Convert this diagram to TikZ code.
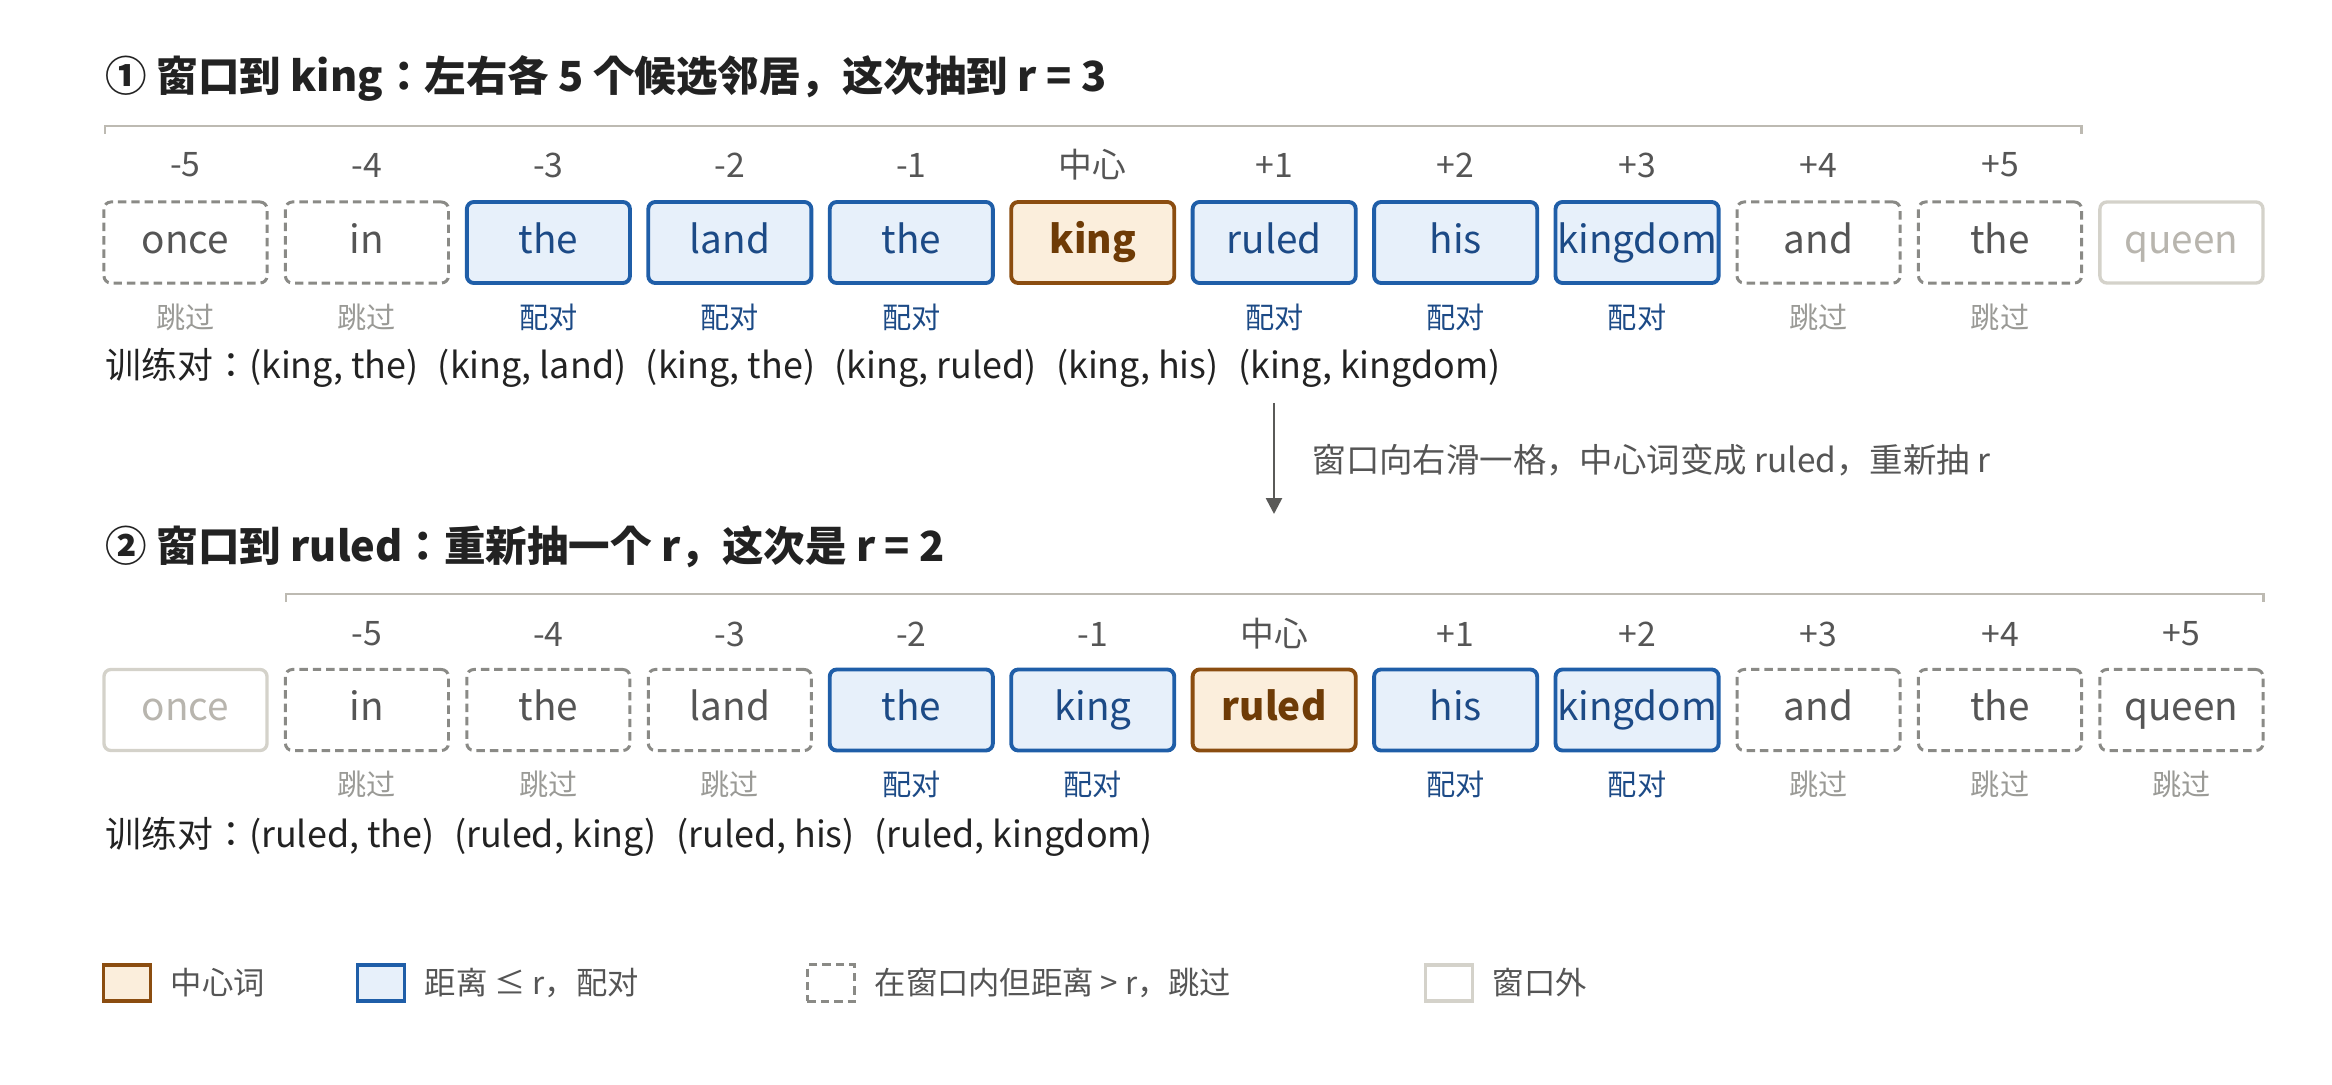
\documentclass[tikz,border=0pt]{standalone}
\usepackage{fontspec}
\setmainfont{Noto Sans CJK JP}
\usetikzlibrary{positioning,arrows.meta}

\definecolor{inkT}{HTML}{222222}
\definecolor{inkG}{HTML}{555555}
\definecolor{skipL}{HTML}{8A8A86}
\definecolor{skipT}{HTML}{9A9A96}
\definecolor{pairL}{HTML}{1F5EA8}
\definecolor{pairF}{HTML}{E7F0FA}
\definecolor{pairT}{HTML}{1C4A86}
\definecolor{cenL}{HTML}{8B4D10}
\definecolor{cenF}{HTML}{FBEEDC}
\definecolor{cenT}{HTML}{6E3B06}
\definecolor{outL}{HTML}{D4D2CA}
\definecolor{outT}{HTML}{B8B5AE}
\definecolor{brk}{HTML}{BDBAB2}
\definecolor{flowC}{HTML}{5A5A58}

\begin{document}
\begin{tikzpicture}[x=0.01cm,y=-0.01cm,
  word/.style={shape=rectangle,rounded corners=2pt,minimum width=1.63cm,minimum height=0.81cm,inner sep=0pt,text height=8pt,text depth=2pt,font=\fontsize{11}{13}\selectfont},
  wordS/.style={word,draw=skipL,line width=0.85pt,dash pattern=on 2.4pt off 1.4pt,text=inkG},
  wordP/.style={word,draw=pairL,line width=1.1pt,fill=pairF,text=pairT},
  wordC/.style={word,draw=cenL,line width=1.1pt,fill=cenF,text=cenT,font=\fontsize{11}{13}\selectfont\bfseries},
  wordO/.style={word,draw=outL,line width=0.95pt,text=outT},
  offs/.style={text=inkG,font=\fontsize{9.6}{11}\selectfont},
  statS/.style={text=skipT,font=\fontsize{8.3}{10}\selectfont},
  statP/.style={text=pairT,font=\fontsize{8.3}{10}\selectfont},
  head/.style={anchor=west,inner sep=0pt,text=inkT,font=\fontsize{11.8}{14}\selectfont\bfseries},
  pairs/.style={anchor=west,inner sep=0pt,text=inkT,font=\fontsize{10.2}{12}\selectfont},
  bracket/.style={draw=brk,line width=0.85pt},
  flow/.style={draw=flowC,line width=0.75pt,-{Triangle[length=4.5pt,width=4.5pt]}},
  key/.style={shape=rectangle,minimum width=0.47cm,minimum height=0.36cm,inner sep=0pt,line width=0.95pt},
  keytext/.style={right=0.18cm of #1,inner sep=0pt,text=inkG,font=\fontsize{8.9}{10}\selectfont}]
\def\dx{181.45};
\def\xa{185.5};
\def\ya{242.5};
\def\yb{710};

\useasboundingbox (0,0) rectangle (2332,1085);

% step 1: window on king
\node[head] (t1) at (105,78) {① 窗口到 king：左右各 5 个候选邻居，这次抽到 r = 3};
\draw[bracket] (105,134) -- (105,126) -- (2081.5,126) -- (2081.5,134);

\foreach \o [count=\i from 0] in {-5,-4,-3,-2,-1,中心,+1,+2,+3,+4,+5}
  \node[offs] (oa\i) at (\xa+\i*\dx,165) {\o};

\foreach \w/\s [count=\i from 0] in {once/S,in/S,the/P,land/P,the/P,king/C,ruled/P,his/P,kingdom/P,and/S,the/S,queen/O}
  \node[word\s] (a\i) at (\xa+\i*\dx,\ya) {\w};

\foreach \i in {0,1,9,10}
  \node[statS] (sa\i) at (\xa+\i*\dx,317) {跳过};
\foreach \i in {2,3,4,6,7,8}
  \node[statP] (sa\i) at (\xa+\i*\dx,317) {配对};

\node[pairs] (p1) at (105,368) {训练对：(king, the)\hspace{0.32em} (king, land)\hspace{0.32em} (king, the)\hspace{0.32em} (king, ruled)\hspace{0.32em} (king, his)\hspace{0.32em} (king, kingdom)};

% slide
\coordinate (s1) at (1274,403);
\coordinate (s2) at (1274,514);
\draw[flow] (s1) -- (s2);
\node[anchor=west,inner sep=0pt,text=inkG,font=\fontsize{9.5}{11}\selectfont] (sl) at (1312,460) {窗口向右滑一格，中心词变成 ruled，重新抽 r};

% step 2: window on ruled
\node[head] (t2) at (105,547) {② 窗口到 ruled：重新抽一个 r，这次是 r = 2};
\draw[bracket] (286,602) -- (286,594) -- (2263,594) -- (2263,602);

\foreach \o [count=\i from 1] in {-5,-4,-3,-2,-1,中心,+1,+2,+3,+4,+5}
  \node[offs] (ob\i) at (\xa+\i*\dx,634) {\o};

\foreach \w/\s [count=\i from 0] in {once/O,in/S,the/S,land/S,the/P,king/P,ruled/C,his/P,kingdom/P,and/S,the/S,queen/S}
  \node[word\s] (b\i) at (\xa+\i*\dx,\yb) {\w};

\foreach \i in {1,2,3,9,10,11}
  \node[statS] (sb\i) at (\xa+\i*\dx,784) {跳过};
\foreach \i in {4,5,7,8}
  \node[statP] (sb\i) at (\xa+\i*\dx,784) {配对};

\node[pairs] (p2) at (105,837) {训练对：(ruled, the)\hspace{0.32em} (ruled, king)\hspace{0.32em} (ruled, his)\hspace{0.32em} (ruled, kingdom)};

% legend
\node[key,draw=cenL,fill=cenF] (kc) at (127,983) {};
\node[keytext=kc] (kct) {中心词};
\node[key,draw=pairL,fill=pairF] (kp) at (381,983) {};
\node[keytext=kp] (kpt) {距离 ≤ r，配对};
\node[key,draw=skipL,line width=0.85pt,dash pattern=on 2.4pt off 1.4pt] (ks) at (831,983) {};
\node[keytext=ks] (kst) {在窗口内但距离 > r，跳过};
\node[key,draw=outL] (ko) at (1449,983) {};
\node[keytext=ko] (kot) {窗口外};

\end{tikzpicture}
\end{document}
